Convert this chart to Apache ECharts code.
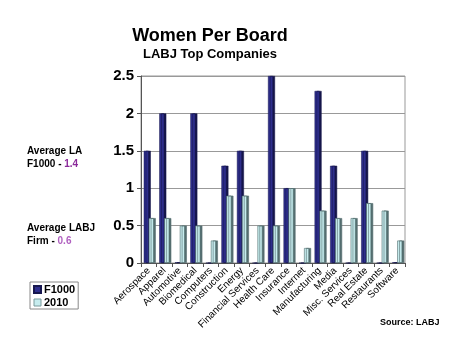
<!DOCTYPE html>
<html>
<head>
<meta charset="utf-8">
<script src="https://cdn.jsdelivr.net/npm/echarts@6/dist/echarts.min.js"></script>
<style>
  html, body { margin: 0; padding: 0; background: #fff; }
  #chart { width: 450px; height: 338px; }
</style>
</head>
<body>
<div id="chart"></div>
<script>
// Industries on the category axis
var categories = ['Aerospace', 'Apparel', 'Automotive', 'Biomedical', 'Computers',
  'Construction', 'Energy', 'Financial Services', 'Health Care', 'Insurance',
  'Internet', 'Manufacturing', 'Media', 'Misc. Services', 'Real Estate',
  'Restaurants', 'Software'];

// Average number of women per board
var f1000 = [1.5, 2.0, 0.01, 2.0, 0, 1.3, 1.5, 0, 2.5, 1.0, 0, 2.3, 1.3, 0, 1.5, 0, 0.01];
var y2010 = [0.6, 0.6, 0.5, 0.5, 0.3, 0.9, 0.9, 0.5, 0.5, 1.0, 0.2, 0.7, 0.6, 0.6, 0.8, 0.7, 0.3];

var yTicks = [0, 0.5, 1, 1.5, 2, 2.5];

var chart = echarts.init(document.getElementById('chart'), null, { renderer: 'canvas' });
var font = 'Arial, "Liberation Sans", sans-serif';

chart.setOption({
  animation: false,
  backgroundColor: '#fff',
  title: {
    text: 'Women Per Board',
    subtext: 'LABJ Top Companies',
    left: 205,
    textAlign: 'center',
    top: 22,
    itemGap: 3,
    textStyle: { fontFamily: font, fontWeight: 'bold', fontSize: 18, color: '#000' },
    subtextStyle: { fontFamily: font, fontWeight: 'bold', fontSize: 13, color: '#000' }
  },
  legend: {
    orient: 'vertical',
    left: 30,
    top: 282,
    itemWidth: 7,
    itemHeight: 7,
    itemGap: 2,
    padding: [2, 3, 1, 3],
    borderColor: '#888',
    borderWidth: 1,
    textStyle: { fontFamily: font, fontWeight: 'bold', fontSize: 11, color: '#000', padding: [0, 0, 0, -2] },
    data: [
      { name: 'F1000', icon: 'rect', itemStyle: { color: '#2e2e8c', shadowOffsetX: 0 } },
      { name: '2010', icon: 'rect', itemStyle: { color: '#c6ecee', borderColor: '#7a9a9c', borderWidth: 1, shadowOffsetX: 0 } }
    ]
  },
  grid: { left: 141, right: 45, top: 76, bottom: 75, show: true, borderColor: '#999', borderWidth: 1 },
  xAxis: {
    type: 'category',
    data: categories,
    axisLine: { lineStyle: { color: '#555' } },
    axisTick: { show: true, alignWithLabel: false, length: 4, lineStyle: { color: '#555' } },
    axisLabel: { rotate: 45, interval: 0, fontFamily: font, fontSize: 10, color: '#000', margin: 6 }
  },
  yAxis: {
    type: 'value',
    min: 0,
    max: 2.5,
    interval: 0.5,
    axisLine: { show: true, lineStyle: { color: '#555' } },
    axisTick: { show: true, length: 4, lineStyle: { color: '#555' } },
    splitLine: { lineStyle: { color: '#999' } },
    axisLabel: {
      fontFamily: font, fontWeight: 'bold', fontSize: 15, color: '#000', margin: 7,
      formatter: function (v) { return yTicks.indexOf(v) >= 0 ? String(v) : ''; }
    }
  },
  series: [
    {
      name: 'F1000', type: 'bar', data: f1000,
      barWidth: 5, barGap: '0%',
      itemStyle: { color: '#2e2e8c', borderColor: '#17174f', borderWidth: 0.5,
        shadowColor: '#15154a', shadowOffsetX: 2, shadowOffsetY: 0, shadowBlur: 0 }
    },
    {
      name: '2010', type: 'bar', data: y2010,
      barWidth: 5,
      itemStyle: { color: '#c6ecee', borderColor: '#4f6b6c', borderWidth: 0.6,
        shadowColor: '#556e70', shadowOffsetX: 2, shadowOffsetY: 0, shadowBlur: 0 }
    }
  ],
  graphic: [
    { type: 'text', left: 27, top: 146, style: { text: 'Average LA', font: 'bold 10px ' + font, fill: '#000' } },
    { type: 'text', left: 27, top: 159, style: { rich: { a: { font: 'bold 10px ' + font, fill: '#000' }, b: { font: 'bold 10px ' + font, fill: '#8b2a9a' } }, text: '{a|F1000 - }{b|1.4}' } },
    { type: 'text', left: 27, top: 223, style: { text: 'Average LABJ', font: 'bold 10px ' + font, fill: '#000' } },
    { type: 'text', left: 27, top: 236, style: { rich: { a: { font: 'bold 10px ' + font, fill: '#000' }, b: { font: 'bold 10px ' + font, fill: '#b060c0' } }, text: '{a|Firm - }{b|0.6}' } },
    { type: 'text', left: 380, top: 318, style: { text: 'Source: LABJ', font: 'bold 9px ' + font, fill: '#000' } }
  ]
});
</script>
</body>
</html>
